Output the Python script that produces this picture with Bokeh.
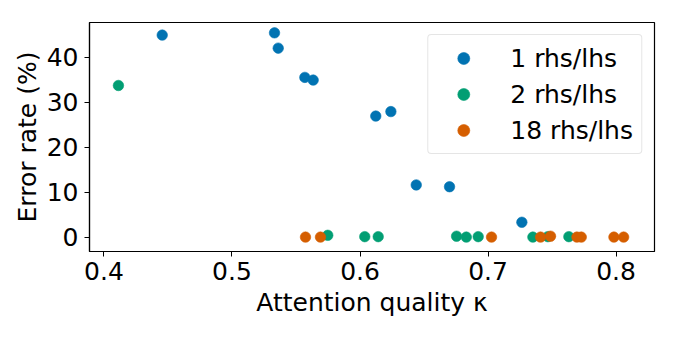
from bokeh.plotting import figure
from bokeh.models import Range1d, FixedTicker, Legend, LegendItem
from bokeh.embed import file_html
from bokeh.resources import INLINE

x1 = [0.4455, 0.5332, 0.5361, 0.5569, 0.5634, 0.6123, 0.6241, 0.6439, 0.6699, 0.7264]
y1 = [44.9, 45.4, 42.0, 35.5, 34.9, 26.9, 27.9, 11.6, 11.2, 3.3]
x2 = [0.4113, 0.5748, 0.6037, 0.6142, 0.6754, 0.6830, 0.6923, 0.7350, 0.7467, 0.7631]
y2 = [33.7, 0.4, 0.1, 0.1, 0.2, 0.0, 0.1, 0.0, 0.1, 0.1]
x18 = [0.5574, 0.5691, 0.7027, 0.7410, 0.7488, 0.7694, 0.7728, 0.7983, 0.8059]
y18 = [0.0, 0.0, 0.0, 0.0, 0.2, 0.0, 0.0, 0.0, 0.0]
labels = ["1 rhs/lhs", "2 rhs/lhs", "18 rhs/lhs"]
colors = ["#0173b2", "#029e73", "#d55e00"]
xticks = [0.4, 0.5, 0.6, 0.7, 0.8]
yticks = [0, 10, 20, 30, 40]

FONT = "DejaVu Sans"
FS = "25px"

p = figure(width=661, height=323, output_backend="svg", toolbar_location=None,
           x_range=Range1d(0.3887, 0.8300), y_range=Range1d(-3.2, 47.7),
           min_border_left=89, min_border_right=7, min_border_top=22, min_border_bottom=72)
p.background_fill_color = "white"
p.border_fill_color = "white"
p.outline_line_color = "black"
p.outline_line_width = 1.2
p.xgrid.visible = False
p.ygrid.visible = False

rs = []
for xs, ys, c in zip([x1, x2, x18], [y1, y2, y18], colors):
    r = p.scatter(xs, ys, size=10.5, fill_color=c, line_color=c, line_alpha=0.6, line_width=1)
    rs.append(r)

for ax in (p.xaxis[0], p.yaxis[0]):
    ax.major_label_text_font = FONT
    ax.major_label_text_font_size = FS
    ax.major_label_text_color = "black"
    ax.axis_label_text_font = FONT
    ax.axis_label_text_font_size = FS
    ax.axis_label_text_font_style = "normal"
    ax.axis_label_text_color = "black"
    ax.minor_tick_line_color = None
    ax.major_tick_out = 5
    ax.major_tick_in = 0
    ax.major_tick_line_color = "black"
    ax.axis_line_color = "black"
    ax.axis_line_width = 1.2

p.xaxis.ticker = FixedTicker(ticks=xticks)
p.yaxis.ticker = FixedTicker(ticks=yticks)
p.xaxis.axis_label = "Attention quality \u03ba"
p.yaxis.axis_label = "Error rate (%)"
p.xaxis.major_label_standoff = 5
p.yaxis.major_label_standoff = 6
p.xaxis.axis_label_standoff = 5
p.yaxis.axis_label_standoff = 2

legend = Legend(items=[LegendItem(label=l, renderers=[r]) for l, r in zip(labels, rs)],
                location="top_right")
legend.margin = 12
legend.padding = 8
legend.spacing = 6
legend.glyph_width = 54
legend.glyph_height = 30
legend.label_standoff = 20
legend.label_text_font = FONT
legend.label_text_font_size = FS
legend.label_text_color = "black"
legend.border_line_color = "#cccccc"
legend.border_line_width = 1
legend.border_radius = 4
legend.background_fill_alpha = 0.8
p.add_layout(legend)

open("out.html", "w").write(file_html(p, INLINE))
